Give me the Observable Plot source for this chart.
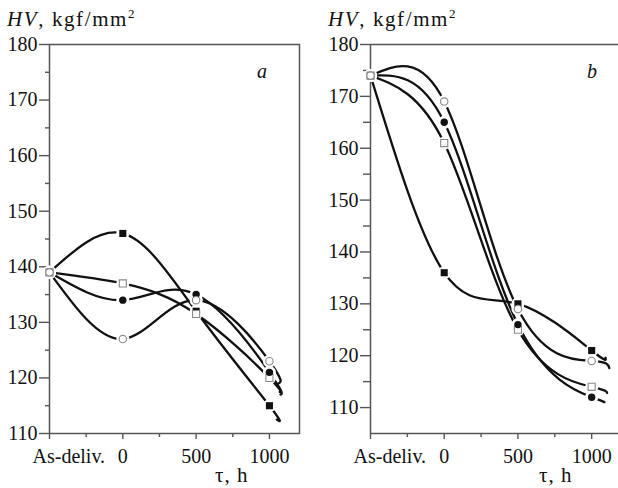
<!DOCTYPE html>
<html><head><meta charset="utf-8">
<script src="https://cdn.jsdelivr.net/npm/d3@7"></script>
<script src="https://cdn.jsdelivr.net/npm/@observablehq/plot@0.6"></script>
<style>
body{margin:0;background:#fff;}
#wrap{position:relative;width:618px;height:488px;overflow:hidden;font-family:"Liberation Serif","Times New Roman",Times,"DejaVu Serif",serif;color:#111;}
.p{position:absolute;top:0;}
.lab{position:absolute;font-size:20px;line-height:20px;white-space:nowrap;}
.lab sup{font-size:13px;vertical-align:0;position:relative;top:-8px;}
</style></head><body><div id="wrap"></div>
<script>
// x positions: -500 stands for "As-deliv."
const xTicks = [-500, 0, 500, 1000];
const xLabels = ["As-deliv.", "0", "500", "1000"];
const xMinor = [-250, 250, 750];
const series = ["filledSquare", "openSquare", "filledCircle", "openCircle"];

// Panel a values at xTicks
const aFilledSquare = [139, 146, 132, 115];
const aOpenSquare   = [139, 137, 131.5, 120];
const aFilledCircle = [139, 134, 135, 121];
const aOpenCircle   = [139, 127, 134, 123];
// curve tails beyond the last marker (series order)
const aTailX = [1050, 1075, 1070, 1062];
const aTailY = [112.5, 117, 117.5, 119];

// Panel b values at xTicks
const bFilledSquare = [174, 136, 130, 121];
const bOpenSquare   = [174, 161, 125, 114];
const bFilledCircle = [174, 165, 126, 112];
const bOpenCircle   = [174, 169, 129, 119];
const bTailX = [1094, 1105, 1080, 1120];
const bTailY = [119.6, 112.8, 111.1, 117.6];

const aMajorY = [110,120,130,140,150,160,170,180];
const aMinorY = [115,125,135,145,155,165,175];
const bMajorY = [110,120,130,140,150,160,170,180];
const bMinorY = [115,125,135,145,155,165,175];

function build(vals, tailX, tailY) {
  const pts = [], lines = [];
  series.forEach((s, i) => {
    vals[i].forEach((v, j) => {
      pts.push({s, x: xTicks[j], y: v});
      lines.push({s, x: xTicks[j], y: v});
    });
    lines.push({s, x: tailX[i], y: tailY[i]});
  });
  return {pts, lines};
}

const AX = "#555";
const FONT = '"Liberation Serif","Times New Roman",Times,"DejaVu Serif",serif';
function panel({vals, tailX, tailY, xDomain, yDomain, majorY, minorY, minorSize, width, marginLeft, marginRight, framed}) {
  const {pts, lines} = build(vals, tailX, tailY);
  const border = framed
    ? [Plot.frame({stroke: AX, strokeWidth: 1.5})]
    : [Plot.ruleY([yDomain[1]], {stroke: AX, strokeWidth: 1.5}),
       Plot.ruleY([yDomain[0]], {stroke: AX, strokeWidth: 1.5}),
       Plot.ruleX([xDomain[0]], {stroke: AX, strokeWidth: 1.5})];
  return Plot.plot({
    width, height: 488, marginTop: 44, marginBottom: 55, marginLeft, marginRight,
    x: {domain: xDomain, label: null}, y: {domain: yDomain, label: null},
    style: {fontFamily: FONT, fontSize: "20px", color: "#111", background: "transparent", overflow: "visible"},
    marks: [
      ...border,
      Plot.axisY({ticks: majorY, label: null, tickSize: 10, tickPadding: 2, stroke: AX, strokeWidth: 1.4, fontSize: 20, fontFamily: FONT}),
      Plot.axisY({ticks: minorY, label: null, tickSize: minorSize, tickFormat: () => "", stroke: AX, strokeWidth: 1.4}),
      Plot.axisX({ticks: xTicks, label: null, tickSize: 6, tickPadding: 9, tickFormat: d => d === xTicks[0] ? "" : xLabels[xTicks.indexOf(d)], stroke: AX, strokeWidth: 1.4, fontSize: 20, fontFamily: FONT}),
      Plot.axisX({ticks: xMinor, label: null, tickSize: 4, tickFormat: () => "", stroke: AX, strokeWidth: 1.4}),
      Plot.text([{x: xTicks[0], t: xLabels[0]}], {x: "x", text: "t", frameAnchor: "bottom", textAnchor: "start", lineAnchor: "top", dx: -17, dy: 15, fontSize: 20, fontFamily: FONT, fill: "#111"}),
      Plot.line(lines, {x: "x", y: "y", z: "s", curve: "natural", stroke: "#111", strokeWidth: 2.3}),
      Plot.dot(pts, {x: "x", y: "y", r: 6.5, fill: "white", stroke: "none"}),
      Plot.dot(pts.filter(d => d.s === "filledSquare"), {x: "x", y: "y", symbol: "square", r: 4, fill: "#111", stroke: "none"}),
      Plot.dot(pts.filter(d => d.s === "openSquare"), {x: "x", y: "y", symbol: "square", r: 4, fill: "white", stroke: "#888", strokeWidth: 1.1}),
      Plot.dot(pts.filter(d => d.s === "filledCircle"), {x: "x", y: "y", symbol: "circle", r: 3.7, fill: "#111", stroke: "none"}),
      Plot.dot(pts.filter(d => d.s === "openCircle"), {x: "x", y: "y", symbol: "circle", r: 3.7, fill: "white", stroke: "#888", strokeWidth: 1.1})
    ]
  });
}

const wrap = document.getElementById("wrap");
const pa = panel({vals: [aFilledSquare, aOpenSquare, aFilledCircle, aOpenCircle], tailX: aTailX, tailY: aTailY,
  xDomain: [-500, 1205], yDomain: [110, 180], majorY: aMajorY, minorY: aMinorY, minorSize: 4,
  width: 300, marginLeft: 49, marginRight: 1, framed: true});
pa.classList.add("p"); pa.style.left = "0px";
const pb = panel({vals: [bFilledSquare, bOpenSquare, bFilledCircle, bOpenCircle], tailX: bTailX, tailY: bTailY,
  xDomain: [-500, 1182], yDomain: [105, 180], majorY: bMajorY, minorY: bMinorY, minorSize: 7,
  width: 318, marginLeft: 70, marginRight: 0, framed: false});
pb.classList.add("p"); pb.style.left = "300px";
wrap.appendChild(pa); wrap.appendChild(pb);

function label(html, left, top, extra) {
  const d = document.createElement("div");
  d.className = "lab"; d.innerHTML = html;
  d.style.left = left + "px"; d.style.top = top + "px";
  if (extra) Object.assign(d.style, extra);
  wrap.appendChild(d);
}
const yTitle = '<i>HV</i>, kgf/mm<sup>2</sup>';
label(yTitle, 7, 9, {fontSize: "21px", letterSpacing: "1.6px"});
label(yTitle, 328, 9, {fontSize: "21px", letterSpacing: "1.6px"});
label('<i>a</i>', 257, 61);
label('<i>b</i>', 587, 61);
label('τ, h', 215, 465, {fontSize: "21px", letterSpacing: "1px"});
label('τ, h', 539, 465, {fontSize: "21px", letterSpacing: "1px"});
</script></body></html>
